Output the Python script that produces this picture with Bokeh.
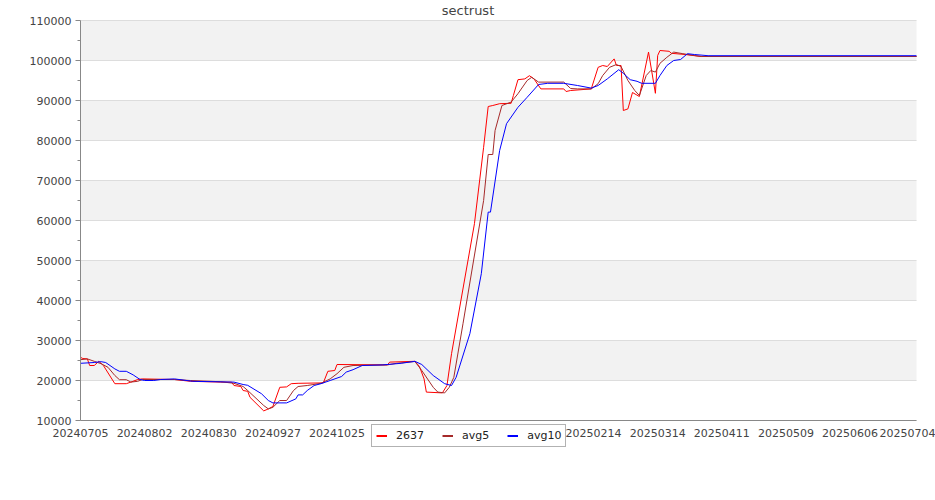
from datetime import datetime
from bokeh.plotting import figure
from bokeh.models import (Range1d, FixedTicker, Legend, LegendItem, Label)
from bokeh.embed import file_html
from bokeh.resources import INLINE

title_text = "sectrust"
series_names = ["2637", "avg5", "avg10"]
series_colors = ["#ff0000", "#a52a2a", "#0000ff"]
start_date = "20240705"
end_day = 365
x_tick_labels = ["20240705", "20240802", "20240830", "20240927", "20241025",
                 "20241122", "20241220", "20250117", "20250214", "20250314",
                 "20250411", "20250509", "20250606", "20250704"]
y_ticks = [10000, 20000, 30000, 40000, 50000, 60000, 70000, 80000, 90000,
           100000, 110000]

# day offsets from start_date and values
days_2637 = [0, 1, 3, 4, 6, 8, 10, 15, 20, 22, 25, 27, 41, 48, 61, 66, 67, 70,
             71, 73, 74, 80, 82, 84, 87, 90, 92, 95, 106, 108, 111, 112, 134,
             135, 146, 148, 150, 151, 158, 160, 162, 172, 176, 178, 180, 183,
             188, 189, 191, 194, 196, 198, 201, 211, 212, 214, 223, 226, 228,
             230, 233, 234, 236, 237, 239, 241, 244, 248, 251, 252, 253, 257,
             258, 264, 271, 365]
vals_2637 = [25800, 25500, 25400, 23750, 23750, 24800, 23750, 19200, 19200,
             19600, 20250, 20400, 20250, 19800, 19600, 19580, 18750, 18500,
             17500, 17300, 15800, 12400, 12900, 13500, 18300, 18400, 19200,
             19300, 19400, 22300, 22500, 24000, 23900, 24600, 24800, 23500,
             20400, 17100, 16900, 18750, 26700, 59200, 78300, 88500, 88750,
             89200, 89300, 91250, 95200, 95400, 96200, 95400, 92900, 92900,
             92250, 92500, 92900, 98300, 98750, 98500, 100400, 98750, 98750,
             87500, 87900, 92000, 91000, 102100, 91800, 101250, 102500,
             102300, 101800, 101500, 101000, 101000]

days_avg5 = [0, 3, 6, 9, 12, 15, 17, 20, 22, 25, 27, 41, 48, 61, 67, 71, 73,
             80, 82, 84, 87, 90, 93, 95, 99, 105, 109, 112, 115, 119, 134, 138,
             146, 149, 154, 156, 159, 161, 163, 167, 176, 178, 180, 181, 184,
             188, 191, 195, 197, 200, 211, 214, 217, 223, 226, 228, 231, 234,
             236, 239, 242, 244, 247, 249, 251, 253, 256, 259, 263, 268, 271,
             365]
vals_avg5 = [25200, 25400, 24800, 24200, 23300, 21250, 20200, 20200, 19600,
             19800, 20250, 20250, 20000, 19700, 19300, 18500, 17500, 13750,
             12900, 13300, 15000, 15000, 17500, 18500, 18750, 19300, 20400,
             21700, 23300, 23750, 23900, 24300, 24750, 22500, 18300, 17100,
             16900, 18300, 20800, 34200, 65000, 76500, 76500, 82500, 88750,
             89600, 91700, 95000, 95800, 94600, 94600, 93000, 92900, 92900,
             94200, 96250, 98300, 99000, 98500, 95000, 92500, 91250, 96250,
             97500, 97100, 99300, 100800, 102100, 101700, 101250, 101000,
             101000]

days_avg10 = [0, 6, 9, 11, 15, 17, 20, 23, 26, 28, 32, 35, 41, 49, 67, 71, 73,
              79, 82, 84, 90, 94, 95, 97, 99, 102, 105, 109, 114, 116, 119, 123,
              132, 140, 146, 149, 154, 159, 162, 164, 170, 175, 178, 179, 183,
              186, 191, 195, 200, 204, 211, 217, 223, 226, 230, 235, 237, 240,
              243, 245, 251, 253, 256, 259, 262, 265, 268, 274, 365]
vals_avg10 = [24300, 24500, 24700, 24500, 22900, 22300, 22300, 21400, 20250,
              20000, 20000, 20250, 20400, 19800, 19600, 19000, 18800, 16700,
              15000, 14400, 14400, 15400, 16400, 16400, 17500, 18750, 19200,
              20000, 21000, 22100, 22700, 23750, 23900, 24300, 24800, 24000,
              21250, 19200, 18750, 20800, 31700, 46700, 62100, 62100, 77500,
              84200, 88300, 90800, 94000, 94300, 94300, 93750, 93100, 93750,
              95400, 97700, 96800, 95200, 94800, 94300, 94300, 96250, 98750,
              100000, 100250, 101700, 101500, 101200, 101200]

FONT = "DejaVu Sans"
start = datetime.strptime(start_date, "%Y%m%d")
tick_pos = [(datetime.strptime(s, "%Y%m%d") - start).days for s in x_tick_labels]

# layout (pixels): plot area 836x400 at (80, 20); the frame spans the whole
# canvas so that axes drawn at fixed locations, the title and the legend are
# never clipped
PLOT_LEFT, PLOT_TOP, PLOT_W, PLOT_H = 80, 20, 836, 400
CANVAS_W, CANVAS_H = 935, 480
px_per_day = PLOT_W / end_day
val_per_px = (y_ticks[-1] - y_ticks[0]) / PLOT_H
x0 = -PLOT_LEFT / px_per_day
x1 = end_day + (CANVAS_W - PLOT_LEFT - PLOT_W) / px_per_day
y1 = y_ticks[-1] + PLOT_TOP * val_per_px
y0 = y1 - CANVAS_H * val_per_px

p = figure(frame_width=CANVAS_W, frame_height=CANVAS_H, output_backend="svg",
           toolbar_location=None,
           x_range=Range1d(x0, x1), y_range=Range1d(y0, y1),
           min_border_left=0, min_border_right=0, min_border_top=0,
           min_border_bottom=0)
p.outline_line_color = None
p.background_fill_color = "white"
p.border_fill_color = "white"

# background bands and grid lines, limited to the plotting area
p.xgrid.visible = False
p.ygrid.visible = False
band_bottoms = y_ticks[1:-1:2]
band_tops = y_ticks[2::2]
p.quad(left=0, right=end_day, bottom=band_bottoms, top=band_tops,
       fill_color="#f2f2f2", line_color=None)
p.segment(x0=0, x1=end_day, y0=y_ticks, y1=y_ticks, line_color="#dddddd",
          line_width=1)

# y axis
p.yaxis.fixed_location = 0
p.yaxis.ticker = FixedTicker(ticks=y_ticks,
                             minor_ticks=[v + 5000 for v in y_ticks[:-1]])
p.yaxis.bounds = (y_ticks[0], y_ticks[-1])
p.yaxis.formatter.use_scientific = False
p.yaxis.axis_line_color = "#888888"
p.yaxis.major_tick_line_color = "#888888"
p.yaxis.minor_tick_line_color = "#888888"
p.yaxis.major_tick_out = 5
p.yaxis.major_tick_in = 0
p.yaxis.minor_tick_out = 3
p.yaxis.minor_tick_in = 0
p.yaxis.major_label_standoff = 4
p.yaxis.major_label_text_font = FONT
p.yaxis.major_label_text_font_size = "11px"
p.yaxis.major_label_text_color = "#444444"

# x axis, drawn at the lowest y tick
p.xaxis.fixed_location = y_ticks[0]
p.xaxis.bounds = (0, end_day)
p.xaxis.ticker = FixedTicker(ticks=tick_pos)
p.xaxis.major_label_overrides = {t: s for t, s in zip(tick_pos, x_tick_labels)}
p.xaxis.axis_line_color = "#888888"
p.xaxis.major_tick_line_color = None
p.xaxis.minor_tick_line_color = None
p.xaxis.major_tick_out = 0
p.xaxis.major_tick_in = 0
p.xaxis.major_label_standoff = 8
p.xaxis.major_label_text_font = FONT
p.xaxis.major_label_text_font_size = "11px"
p.xaxis.major_label_text_color = "#444444"

series = [(days_2637, vals_2637), (days_avg5, vals_avg5), (days_avg10, vals_avg10)]
items = []
nan = float("nan")
for (xs, ys), name, col in zip(series, series_names, series_colors):
    p.line(xs, ys, line_color=col, line_width=1)
    key = p.line(x=[nan], y=[nan], line_color=col, line_width=2)
    items.append(LegendItem(label=name, renderers=[key]))

legend = Legend(items=items, orientation="horizontal", location=(371, 33),
                padding=4, spacing=18, margin=0, glyph_width=11,
                glyph_height=11, label_standoff=9, label_height=11,
                label_text_font=FONT, label_text_font_size="11px",
                label_text_font_style="normal",
                label_text_color="#222222", border_line_color="#666666",
                border_line_width=1, background_fill_color="white",
                background_fill_alpha=1.0)
p.add_layout(legend, "center")

# title, centred on the canvas near its top
title = Label(x=(x0 + x1) / 2, y=y1 - 10 * val_per_px, text=title_text,
              text_align="center", text_baseline="alphabetic",
              text_font=FONT, text_font_size="13px", text_color="#444444")
p.add_layout(title)

open("out.html", "w").write(file_html(p, INLINE))
